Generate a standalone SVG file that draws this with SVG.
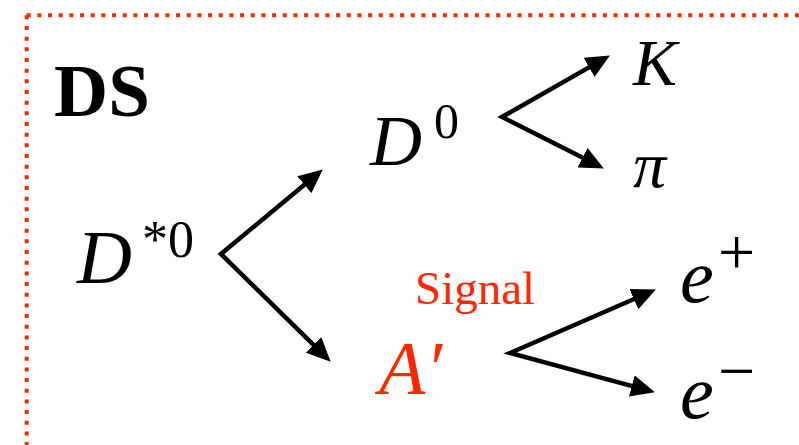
<svg xmlns="http://www.w3.org/2000/svg" width="799" height="445" viewBox="0 0 799 445">
<defs>
<style>
.bd{fill:none;stroke:#ff2600;stroke-width:4;stroke-dasharray:4 6.67}
text{font-family:'Liberation Serif','Times New Roman',serif}
.it{font-style:italic;fill:#000}
.up{font-style:normal;fill:#000}
.red{fill:#ff2600}
.arr{fill:none;stroke:#000;stroke-width:4.5;stroke-linejoin:miter;marker-start:url(#ah);marker-end:url(#ah)}
</style>
<marker id="ah" markerUnits="userSpaceOnUse" markerWidth="24" markerHeight="22" refX="11" refY="11" orient="auto-start-reverse" viewBox="0 0 24 22">
<path d="M0,0 L24,11 L0,22 z" fill="#000"/>
</marker>
</defs>
<rect width="799" height="445" fill="#fff"/>
<g id="border">
<path class="bd" d="M26.7,15.3 L805,15.3"/>
<path class="bd" d="M26.7,15.3 L26.7,450"/>
</g>
<g id="ds"><text class="up" x="54" y="116" font-size="75" font-weight="bold">DS</text></g>
<g id="dstar"><text class="it" x="77" y="283" font-size="76">D</text><text class="up" x="142" y="257" font-size="52">*0</text></g>
<g id="d0"><text class="it" x="370" y="165" font-size="72">D</text><text class="up" x="434" y="138" font-size="50">0</text></g>
<g id="k"><text class="it" x="633" y="85" font-size="66">K</text></g>
<g id="pi"><text class="it" x="633" y="187" font-size="66">π</text></g>
<g id="signal"><text class="up red" x="415" y="304" font-size="47">Signal</text></g>
<g id="aprime"><text class="it red" x="379" y="394" font-size="76">A′</text></g>
<g id="eplus"><text class="it" x="680" y="302" font-size="76">e</text><text class="up" x="718" y="274" font-size="66">+</text></g>
<g id="eminus"><text class="it" x="680" y="418" font-size="76">e</text><text class="up" x="718" y="393" font-size="66">−</text></g>
<g id="connectors">
<polyline class="arr" points="312.8,177.7 221,254 321.4,352.6"/>
<polyline class="arr" points="598.6,61.9 502,117 592.3,162.6"/>
<polyline class="arr" points="644,294.8 510,353 642.4,388.9"/>
</g>
</svg>
